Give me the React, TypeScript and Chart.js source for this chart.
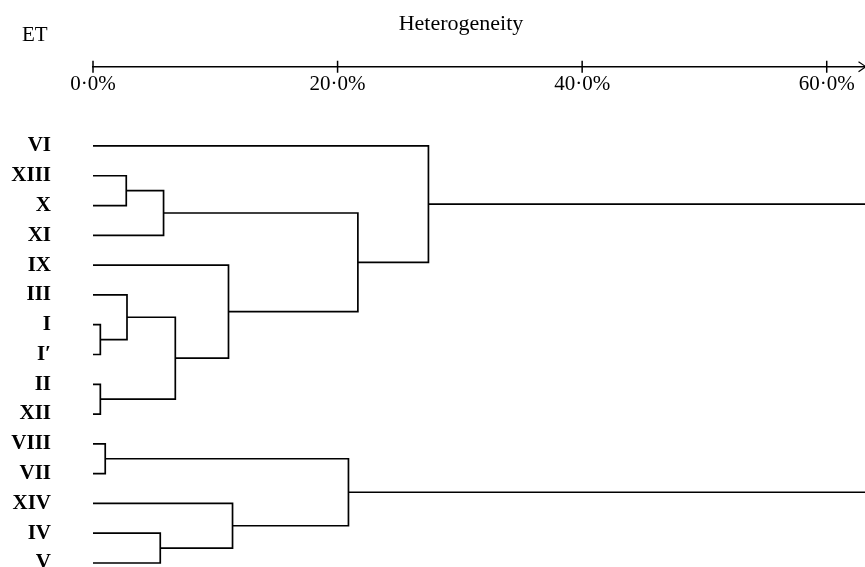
import React, { useEffect, useRef } from "react";
import { Chart, registerables } from "chart.js";

Chart.register(...registerables);

// Leaves (top to bottom)
const leaves = ["VI", "XIII", "X", "XI", "IX", "III", "I", "I′", "II", "XII", "VIII", "VII", "XIV", "IV", "V"];
// Merges: node ids 0..14 are leaves, merge k creates node 15+k
const mergeLeft = [1, 15, 6, 5, 8, 18, 4, 16, 0, 10, 13, 12, 24, 23];
const mergeRight = [2, 3, 7, 17, 9, 19, 20, 21, 22, 11, 14, 25, 26, 27];
const mergeHeight = [2.72, 5.77, 0.6, 2.78, 0.6, 6.73, 11.08, 21.66, 27.43, 1.0, 5.5, 11.41, 20.89, 70];
const axisTicks = [0, 20, 40, 60];
const axisTitle = "Heterogeneity";
const leafTitle = "ET";

const AXIS_Y = -2.66;
const X_MAX = 63.13;

const FONT = "'Liberation Serif', 'Times New Roman', serif";

export default function App() {
  const ref = useRef<HTMLCanvasElement | null>(null);

  useEffect(() => {
    document.body.style.margin = "0";
    const canvas = ref.current;
    if (!canvas) return;

    const nodeY: number[] = leaves.map((_, i) => i);
    const nodeH: number[] = leaves.map(() => 0);
    const datasets: any[] = [];
    const lineStyle = {
      showLine: true,
      borderColor: "#000",
      borderWidth: 1.7,
      pointRadius: 0,
      pointHoverRadius: 0,
      fill: false,
    };
    mergeLeft.forEach((l, k) => {
      const r = mergeRight[k];
      const h = mergeHeight[k];
      const yl = nodeY[l];
      const yr = nodeY[r];
      datasets.push({
        ...lineStyle,
        data: [
          { x: nodeH[l], y: yl },
          { x: h, y: yl },
          { x: h, y: yr },
          { x: nodeH[r], y: yr },
        ],
      });
      nodeY.push((yl + yr) / 2);
      nodeH.push(h);
    });
    axisTicks.forEach((t) => {
      datasets.push({
        ...lineStyle,
        borderWidth: 1.5,
        clip: false,
        data: [
          { x: t, y: AXIS_Y - 0.2 },
          { x: t, y: AXIS_Y + 0.2 },
        ],
      });
    });
    datasets.push({
      ...lineStyle,
      borderWidth: 1.2,
      data: [
        { x: 62.6, y: AXIS_Y - 0.17 },
        { x: 63.2, y: AXIS_Y },
        { x: 62.6, y: AXIS_Y + 0.17 },
      ],
    });

    const textPlugin = {
      id: "texts",
      afterDraw(chart: any) {
        const ctx = chart.ctx;
        ctx.save();
        ctx.fillStyle = "#000";
        ctx.textBaseline = "alphabetic";
        ctx.font = `22px ${FONT}`;
        ctx.textAlign = "center";
        ctx.fillText(axisTitle, 461, 29.5);
        ctx.font = `21px ${FONT}`;
        ctx.textAlign = "left";
        ctx.fillText(leafTitle, 22, 40.5);
        ctx.restore();
      },
    };

    const chart = new Chart(canvas, {
      type: "scatter",
      data: { datasets },
      options: {
        animation: false,
        responsive: false,
        events: [],
        layout: { padding: 0 },
        plugins: { legend: { display: false }, tooltip: { enabled: false }, title: { display: false } },
        scales: {
          x: {
            type: "linear",
            min: 0,
            max: X_MAX,
            position: { y: AXIS_Y } as any,
            afterBuildTicks: (s: any) => {
              s.ticks = axisTicks.map((v) => ({ value: v }));
            },
            afterFit: (s: any) => {
              s.height = 0;
              s.paddingLeft = 0;
              s.paddingRight = 0;
              s.paddingTop = 0;
              s.paddingBottom = 0;
            },
            grid: { display: true, drawOnChartArea: false, drawTicks: false },
            border: { display: true, color: "#000", width: 1.5 },
            ticks: {
              color: "#000",
              font: { family: FONT, size: 21 },
              padding: 5,
              maxRotation: 0,
              autoSkip: false,
              callback: (v: any) => Number(v).toFixed(1).replace(".", "·") + "%",
            },
          },
          y: {
            type: "linear",
            reverse: true,
            min: -4.9,
            max: 14.134,
            afterBuildTicks: (s: any) => {
              s.ticks = leaves.map((_, i) => ({ value: i }));
            },
            afterFit: (s: any) => {
              s.width = 93;
              s.paddingTop = 0;
              s.paddingBottom = 0;
              s.paddingLeft = 0;
              s.paddingRight = 0;
            },
            grid: { display: false, drawTicks: false },
            border: { display: false },
            ticks: {
              color: "#000",
              font: { family: FONT, size: 21, weight: "bold" },
              padding: 42,
              autoSkip: false,
              callback: (v: any) => leaves[Number(v)] ?? "",
            },
          },
        },
      },
      plugins: [textPlugin],
    });
    return () => chart.destroy();
  }, []);

  return (
    <canvas
      ref={ref}
      width={865}
      height={567}
      style={{ position: "absolute", left: 0, top: 0, width: 865, height: 567 }}
    />
  );
}
